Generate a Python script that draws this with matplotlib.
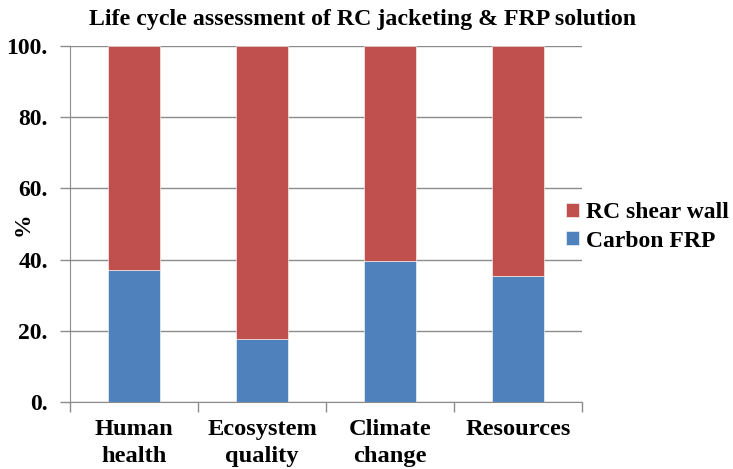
import matplotlib
matplotlib.use("Agg")
import matplotlib.pyplot as plt
import numpy as np

categories = ["Human\nhealth", "Ecosystem\nquality", "Climate\nchange", "Resources"]
carbon_frp = [37.2, 17.7, 39.6, 35.5]
rc_shear_wall = [100 - v for v in carbon_frp]
y_ticks = [0, 20, 40, 60, 80, 100]
y_tick_labels = ["0.", "20.", "40.", "60.", "80.", "100."]

BLUE = "#4F81BD"
RED = "#C0504D"
GRID = "#8C8C8C"
FS = 17

plt.rcParams["font.family"] = ["Liberation Serif", "DejaVu Serif"]
plt.rcParams["font.weight"] = "bold"

fig = plt.figure(figsize=(7.33, 4.69), dpi=100)
ax = fig.add_axes([70 / 733, 1 - 402 / 469, 512 / 733, 356 / 469])

x = np.arange(len(categories))
ax.bar(x, carbon_frp, width=0.4, color=BLUE, edgecolor="white", linewidth=0.4,
       label="Carbon FRP", zorder=3)
ax.bar(x, rc_shear_wall, width=0.4, bottom=carbon_frp, color=RED, edgecolor="white",
       linewidth=0.4, label="RC shear wall", zorder=3)

ax.set_xlim(-0.5, len(categories) - 0.5)
ax.set_ylim(0, 100)
ax.set_yticks(y_ticks)
ax.set_yticklabels(y_tick_labels, fontsize=FS, fontweight="bold")
ax.yaxis.grid(True, color=GRID, linewidth=1, zorder=0)

# category labels centered, boundary ticks between categories
ax.set_xticks(x)
ax.set_xticklabels(categories, fontsize=17.6, fontweight="bold", linespacing=1.4)
ax.tick_params(axis="x", length=0, pad=12)
ax.set_xticks(np.arange(len(categories) + 1) - 0.5, minor=True)
ax.tick_params(axis="x", which="minor", length=7, color=GRID, width=1)
ax.tick_params(axis="y", length=7, color=GRID, width=1, pad=9)

for side in ["top", "right"]:
    ax.spines[side].set_visible(False)
ax.spines["left"].set_color(GRID)
ax.spines["bottom"].set_color(GRID)
ax.spines["left"].set_zorder(4)

ax.set_ylabel("%", fontsize=FS, fontweight="bold")
ax.yaxis.set_label_coords(-0.072, 0.5)
fig.suptitle("Life cycle assessment of RC jacketing & FRP solution",
             x=0.495, y=0.98, fontsize=17.2, fontweight="bold")

handles, labels = ax.get_legend_handles_labels()
ax.legend(handles[::-1], labels[::-1], loc="center left",
          bbox_to_anchor=((566 - 70) / 512, (402 - 227) / 356),
          frameon=False, prop={"weight": "bold", "size": FS},
          borderpad=0, borderaxespad=0,
          handlelength=0.55, handleheight=0.55, handletextpad=0.3, labelspacing=0.3)

fig.savefig("out.png", dpi=100)
